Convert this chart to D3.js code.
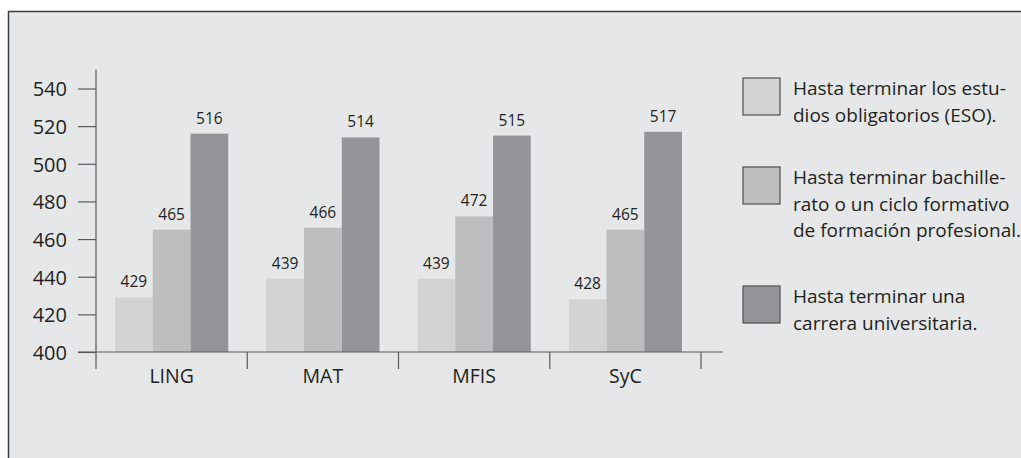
<!DOCTYPE html>
<html>
<head>
<meta charset="utf-8">
<script src="https://cdn.jsdelivr.net/npm/d3@7"></script>
<style>
  html, body { margin: 0; padding: 0; background: #ffffff; }
  svg { display: block; }
  text { font-family: "Open Sans", "Noto Sans", sans-serif; fill: #231f20; }
</style>
</head>
<body>
<svg id="chart" width="1021" height="458"></svg>
<script>
// ---- data ----
const categories = ["LING", "MAT", "MFIS", "SyC"];
const seriesNames = [
  ["Hasta terminar los estu-", "dios obligatorios (ESO)."],
  ["Hasta terminar bachille-", "rato o un ciclo formativo", "de formación profesional."],
  ["Hasta terminar una", "carrera universitaria."]
];
const seriesESO  = [429, 439, 439, 428];
const seriesBach = [465, 466, 472, 465];
const seriesUniv = [516, 514, 515, 517];
const yTicks = [400, 420, 440, 460, 480, 500, 520, 540];
const colors = ["#d1d3d4", "#bcbec0", "#939598"];

const allSeries = [seriesESO, seriesBach, seriesUniv];

const svg = d3.select("#chart");

// panel
svg.append("rect").attr("x", 8).attr("y", 11).attr("width", 1013).attr("height", 447)
  .attr("fill", "#e6e7e8");
svg.append("path").attr("d", "M8.5,458 V11.5 H1021")
  .attr("fill", "none").attr("stroke", "#3d3d3f").attr("stroke-width", 1.5);

// scales
const y = d3.scaleLinear().domain([400, 540]).range([352, 88.5]);
const x = d3.scaleBand().domain(categories).range([96, 701]).padding(0);
const xs = d3.scaleBand().domain(d3.range(allSeries.length)).range([19, x.bandwidth() - 19]).padding(0);

// y axis
const yAxis = d3.axisLeft(y).tickValues(yTicks).tickSize(18).tickPadding(11).tickFormat(d3.format("d"));
const gy = svg.append("g").attr("transform", "translate(96,0)").call(yAxis);
gy.select(".domain").remove();
gy.selectAll(".tick line").attr("stroke", "#58595b").attr("stroke-width", 1.2);
gy.selectAll(".tick text").attr("font-size", 20).attr("fill", "#231f20").attr("dy", "0.37em");
svg.append("line").attr("x1", 96).attr("x2", 96).attr("y1", y(550)).attr("y2", 369)
  .attr("stroke", "#58595b").attr("stroke-width", 1.2);

// bars
const groups = svg.append("g").selectAll("g").data(categories).join("g")
  .attr("transform", d => `translate(${x(d)},0)`);
groups.each(function(cat, ci) {
  const g = d3.select(this);
  allSeries.forEach((s, si) => {
    g.append("rect")
      .attr("x", xs(si)).attr("width", xs.bandwidth())
      .attr("y", y(s[ci])).attr("height", y(400) - y(s[ci]))
      .attr("fill", colors[si]);
    g.append("text")
      .attr("x", xs(si) + xs.bandwidth() / 2).attr("y", y(s[ci]) - 10)
      .attr("text-anchor", "middle").attr("font-size", 15.5)
      .text(s[ci]);
  });
});

// x axis
svg.append("line").attr("x1", 78).attr("x2", 723).attr("y1", 352).attr("y2", 352)
  .attr("stroke", "#58595b").attr("stroke-width", 1.2);
const sepX = categories.map(c => x(c) + x.bandwidth());
svg.append("g").selectAll("line").data(sepX).join("line")
  .attr("x1", d => d).attr("x2", d => d).attr("y1", 352).attr("y2", 369)
  .attr("stroke", "#58595b").attr("stroke-width", 1.2);
svg.append("g").selectAll("text").data(categories).join("text")
  .attr("x", d => x(d) + x.bandwidth() / 2).attr("y", 383)
  .attr("text-anchor", "middle").attr("font-size", 19.5)
  .text(d => d);

// legend
const legendTops = [78, 167, 286];
const lg = svg.append("g").selectAll("g").data(seriesNames).join("g")
  .attr("transform", (d, i) => `translate(743,${legendTops[i]})`);
lg.append("rect").attr("x", 0).attr("y", 0).attr("width", 37).attr("height", 37)
  .attr("fill", (d, i) => colors[i]).attr("stroke", "#58595b").attr("stroke-width", 1.3);
lg.each(function(lines) {
  const t = d3.select(this).append("text").attr("font-size", 19);
  lines.forEach((ln, li) => {
    t.append("tspan").attr("x", 50).attr("y", 17 + li * 26.5).text(ln);
  });
});
</script>
</body>
</html>
